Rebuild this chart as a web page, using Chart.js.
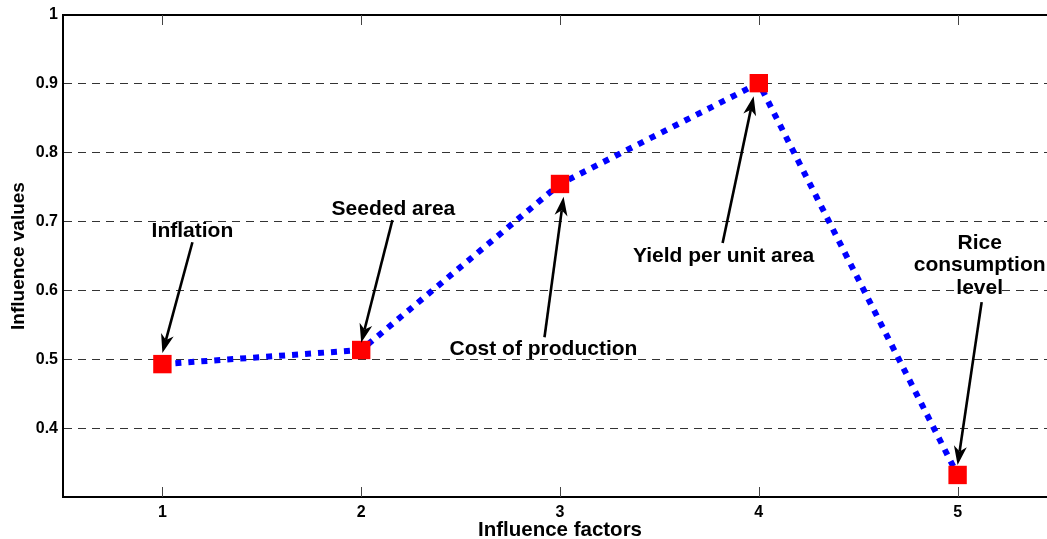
<!DOCTYPE html>
<html>
<head>
<meta charset="utf-8">
<script src="https://cdn.jsdelivr.net/npm/chart.js@4"></script>
<style>
  html, body { margin: 0; padding: 0; background: #fff; }
  .wrap { width: 1047px; height: 539px; overflow: hidden; position: relative; }
  canvas { position: absolute; left: 0; top: 0; }
</style>
</head>
<body>
<div class="wrap"><canvas id="chart" width="1070" height="543"></canvas></div>
<script>
const factors = [1, 2, 3, 4, 5];
const influenceValues = [0.493, 0.5135, 0.7546, 0.901, 0.332];
const yTicks = [0.3, 0.4, 0.5, 0.6, 0.7, 0.8, 0.9, 1];

// callouts in data units: text anchor, arrow tail, arrow head
const callouts = [
    { text: ["Inflation"], at: [1.151, 0.686], from: [1.151, 0.670], to: [1.0, 0.509] },
    { text: ["Seeded area"], at: [2.162, 0.718], from: [2.157, 0.702], to: [2.0, 0.524] },
    { text: ["Cost of production"], at: [2.917, 0.515], from: [2.922, 0.532], to: [3.018, 0.736] },
    { text: ["Yield per unit area"], at: [3.823, 0.650], from: [3.818, 0.669], to: [3.974, 0.882] },
    { text: ["Rice", "consumption", "level"], at: [5.111, 0.669], from: [5.121, 0.583], to: [5.0, 0.3465] }
];

const fontFamily = "'Liberation Sans', Arial, Helvetica, sans-serif";

const drawArrow = (ctx, x1, y1, x2, y2) => {
    const ang = Math.atan2(y2 - y1, x2 - x1);
    const len = 19, half = 6.5, notch = 0.72 * len;
    const cos = Math.cos(ang), sin = Math.sin(ang);
    const bx = x2 - notch * cos, by = y2 - notch * sin;
    ctx.save();
    ctx.strokeStyle = "#000";
    ctx.fillStyle = "#000";
    ctx.lineWidth = 2.6;
    ctx.beginPath();
    ctx.moveTo(x1, y1);
    ctx.lineTo(bx, by);
    ctx.stroke();
    ctx.beginPath();
    ctx.moveTo(x2, y2);
    ctx.lineTo(x2 - len * cos + half * sin, y2 - len * sin - half * cos);
    ctx.lineTo(bx, by);
    ctx.lineTo(x2 - len * cos - half * sin, y2 - len * sin + half * cos);
    ctx.closePath();
    ctx.fill();
    ctx.restore();
}

const framePlugin = {
    id: "frame",
    beforeDatasetsDraw(chart) {
        const { ctx, chartArea, scales } = chart;
        ctx.save();
        ctx.strokeStyle = "#000";
        ctx.lineWidth = 2;
        ctx.beginPath();
        ctx.moveTo(chartArea.left - 1, chartArea.top);
        ctx.lineTo(chartArea.right, chartArea.top);
        ctx.stroke();
        ctx.strokeStyle = "#444";
        ctx.lineWidth = 1;
        factors.forEach(f => {
            const x = Math.round(scales.x.getPixelForValue(f)) + 0.5;
            ctx.beginPath();
            ctx.moveTo(x, chartArea.bottom);
            ctx.lineTo(x, chartArea.bottom - 10);
            ctx.moveTo(x, chartArea.top);
            ctx.lineTo(x, chartArea.top + 10);
            ctx.stroke();
        });
        ctx.restore();
    },
    afterDatasetsDraw(chart) {
        const { ctx, scales } = chart;
        const px = v => scales.x.getPixelForValue(v);
        const py = v => scales.y.getPixelForValue(v);
        ctx.save();
        ctx.font = "bold 21px " + fontFamily;
        ctx.fillStyle = "#000";
        ctx.textAlign = "center";
        ctx.textBaseline = "middle";
        callouts.forEach(c => {
            drawArrow(ctx, px(c.from[0]), py(c.from[1]), px(c.to[0]), py(c.to[1]));
            c.text.forEach((t, i) => {
                ctx.fillText(t, px(c.at[0]), py(c.at[1]) + i * 22.5);
            });
        });
        ctx.restore();
    }
};

const chart = new Chart(document.getElementById("chart"), {
    type: "line",
    data: {
        datasets: [{
            data: factors.map((f, i) => ({ x: f, y: influenceValues[i] })),
            borderColor: "#0000ff",
            borderWidth: 6,
            borderDash: [6, 7],
            borderCapStyle: "butt",
            tension: 0,
            fill: false,
            pointStyle: "rect",
            pointRadius: 13,
            pointHoverRadius: 13,
            pointBackgroundColor: "#ff0000",
            pointBorderWidth: 0
        }]
    },
    options: {
        responsive: false,
        animation: false,
        devicePixelRatio: 1,
        layout: { padding: { top: 15, right: 4, left: 0, bottom: 0 } },
        plugins: { legend: { display: false }, tooltip: { enabled: false } },
        scales: {
            x: {
                type: "linear",
                min: 0.5,
                max: 5.5,
                afterBuildTicks: scale => { scale.ticks = factors.map(v => ({ value: v })); },
                afterFit: scale => { scale.height = 46; },
                grid: { display: false, drawTicks: false },
                border: { display: true, color: "#000", width: 2 },
                ticks: {
                    padding: 6,
                    color: "#000",
                    font: { family: fontFamily, size: 16, weight: "bold" },
                    callback: v => String(v)
                },
                title: {
                    display: true,
                    text: "Influence factors",
                    color: "#000",
                    padding: { top: 0, bottom: 0 },
                    font: { family: fontFamily, size: 20.5, weight: "bold", lineHeight: 1.2 }
                }
            },
            y: {
                min: 0.3,
                max: 1,
                afterBuildTicks: scale => { scale.ticks = yTicks.map(v => ({ value: v })); },
                afterFit: scale => { scale.width = 63; },
                grid: {
                    drawTicks: false,
                    lineWidth: 1,
                    color: ctx => (ctx.tick && ctx.tick.value > 0.35 && ctx.tick.value < 0.95) ? "#333" : "rgba(0,0,0,0)"
                },
                border: { display: true, color: "#000", width: 2, dash: [8, 6] },
                ticks: {
                    padding: 5,
                    color: "#000",
                    font: { family: fontFamily, size: 16, weight: "bold" },
                    callback: v => (v < 0.35 ? "" : String(Math.round(v * 10) / 10))
                },
                title: {
                    display: true,
                    text: "Influence values",
                    color: "#000",
                    padding: { top: 7, bottom: 0 },
                    font: { family: fontFamily, size: 19, weight: "bold", lineHeight: 1.2 }
                }
            }
        }
    },
    plugins: [framePlugin]
});
</script>
</body>
</html>
